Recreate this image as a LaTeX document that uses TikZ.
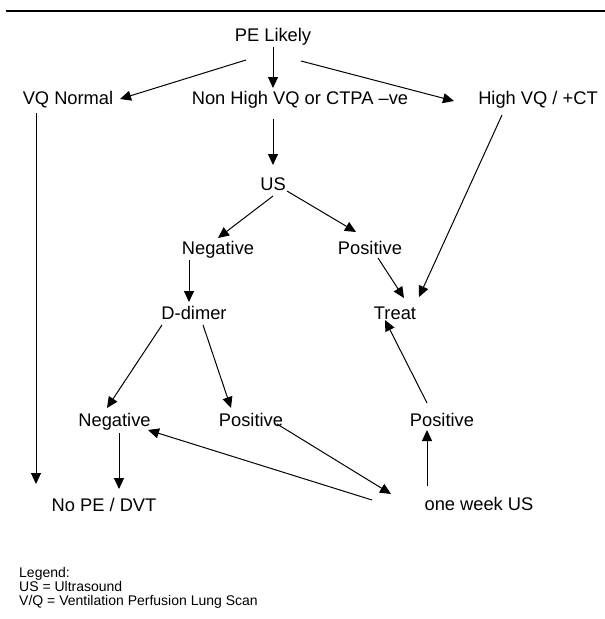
\documentclass[tikz,border=0pt]{standalone}
\usepackage{fontspec}
\setmainfont{Liberation Sans}
\usetikzlibrary{arrows.meta}
\tikzset{
  lbl/.style={inner sep=0pt, anchor=base, font=\fontsize{18.3}{22}\selectfont},
  leg/.style={inner sep=0pt, anchor=base west, font=\fontsize{14}{14}\selectfont},
  arr/.style={line width=1pt, -{Triangle[length=11pt,width=10pt]}},
  rule/.style={line width=2.2pt}
}
\begin{document}
\begin{tikzpicture}[x=1pt,y=-1pt]
\useasboundingbox (0,0) rectangle (605,619);
\coordinate (ruleL) at (6,11);
\coordinate (ruleR) at (605,11);
\draw[rule] (ruleL) -- (ruleR);

\node[lbl] (pe)   at (273,41)  {PE Likely};
\node[lbl] (vqn)  at (68,104)  {VQ Normal};
\node[lbl] (nh)   at (300,104) {Non High VQ or CTPA –ve};
\node[lbl] (hi)   at (538,104) {High VQ / +CT};
\node[lbl] (us)   at (273,190) {US};
\node[lbl] (neg1) at (218,254) {Negative};
\node[lbl] (pos1) at (370,254) {Positive};
\node[lbl] (dd)   at (194,319) {D-dimer};
\node[lbl] (tr)   at (395,319) {Treat};
\node[lbl] (neg2) at (114.5,426) {Negative};
\node[lbl] (pos2) at (251,426) {Positive};
\node[lbl] (pos3) at (442,426) {Positive};
\node[lbl] (nope) at (104,511) {No PE / DVT};
\node[lbl] (ow)   at (479,510) {one week US};

\node[leg] (l1) at (19,577) {Legend:};
\node[leg] (l2) at (19,591) {US = Ultrasound};
\node[leg] (l3) at (19,605) {V/Q = Ventilation Perfusion Lung Scan};

\draw[arr] ([shift={(0,6)}]pe.base) -- ([shift={(-27,-16)}]nh.base);
\draw[arr] ([shift={(-27,19)}]pe.base) -- ([shift={(52,-5)}]vqn.base);
\draw[arr] ([shift={(28,20)}]pe.base) -- ([shift={(-84,-3)}]hi.base);
\draw[arr] ([shift={(-32,9)}]vqn.base) -- ([shift={(-68,-27)}]nope.base);
\draw[arr] ([shift={(-27,15)}]nh.base) -- ([shift={(0,-25)}]us.base);
\draw[arr] ([shift={(0,6)}]us.base) -- ([shift={(0,-16)}]neg1.base);
\draw[arr] ([shift={(14,1)}]us.base) -- ([shift={(-14,-22)}]pos1.base);
\draw[arr] ([shift={(-36,11)}]hi.base) -- ([shift={(24,-22)}]tr.base);
\draw[arr] ([shift={(8,4)}]pos1.base) -- ([shift={(9,-21)}]tr.base);
\draw[arr] ([shift={(-29,6)}]neg1.base) -- ([shift={(-5,-17)}]dd.base);
\draw[arr] ([shift={(-32,6)}]dd.base) -- ([shift={(-7.5,-18)}]neg2.base);
\draw[arr] ([shift={(9,6)}]dd.base) -- ([shift={(-20,-18)}]pos2.base);
\draw[arr] ([shift={(26,-2)}]pos2.base) -- ([shift={(-88,-16)}]ow.base);
\draw[arr] ([shift={(-107,-10)}]ow.base) -- ([shift={(33.5,4)}]neg2.base);
\draw[arr] ([shift={(-52,-24)}]ow.base) -- ([shift={(-15,4)}]pos3.base);
\draw[arr] ([shift={(-15,-23)}]pos3.base) -- ([shift={(-10,1)}]tr.base);
\draw[arr] ([shift={(4.5,7)}]neg2.base) -- ([shift={(15,-22)}]nope.base);
\end{tikzpicture}
\end{document}
